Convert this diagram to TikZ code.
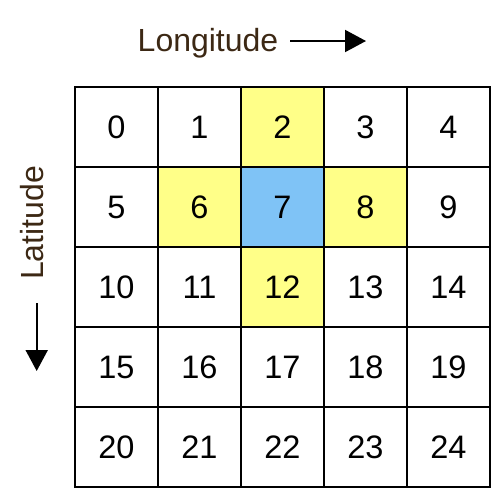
\documentclass[tikz,border=0pt]{standalone}
\usepackage{fontspec}
\setmainfont{Liberation Sans}
\usetikzlibrary{arrows.meta}
\definecolor{cellyellow}{HTML}{FFFF88}
\definecolor{cellblue}{HTML}{7FC3F6}
\definecolor{labelbrown}{HTML}{3C2814}
\begin{document}
\begin{tikzpicture}[x=1pt,y=-1pt,
  cellbox/.style={draw=black,line width=2pt,minimum width=83pt,minimum height=80pt,inner sep=0pt,outer sep=0pt,font=\fontsize{32.5}{36}\selectfont,anchor=north west},
  nbr/.style={cellbox,fill=cellyellow},
  ctr/.style={cellbox,fill=cellblue},
  axislabel/.style={font=\fontsize{32}{36}\selectfont,text=labelbrown,inner sep=0pt,anchor=base},
  axisarrow/.style={line width=2pt,-{Triangle[length=21pt,width=22pt]}}]
\useasboundingbox (0,0) rectangle (501,501);
\foreach \r in {0,...,4}{
  \foreach \c in {0,...,4}{
    \pgfmathtruncatemacro{\n}{\r*5+\c}
    \node[cellbox] (c\n) at ({75+83*\c},{87+80*\r}) {\n};
  }
}
% highlighted cells redrawn on top
\node[nbr] (h2) at ({75+83*2},{87}) {2};
\node[nbr] (h6) at ({75+83*1},{87+80}) {6};
\node[nbr] (h8) at ({75+83*3},{87+80}) {8};
\node[nbr] (h12) at ({75+83*2},{87+160}) {12};
\node[ctr] (h7) at ({75+83*2},{87+80}) {7};
% axis labels
\node[axislabel] (lon) at (208,51.7) {Longitude};
\coordinate (lonA) at (290,41);
\coordinate (lonB) at (366,41);
\draw[axisarrow] (lonA) -- (lonB);
\node[axislabel,rotate=90] (lat) at (43.5,223) {Latitude};
\coordinate (latA) at (36.7,303);
\coordinate (latB) at (36.7,371);
\draw[axisarrow] (latA) -- (latB);
\end{tikzpicture}
\end{document}
